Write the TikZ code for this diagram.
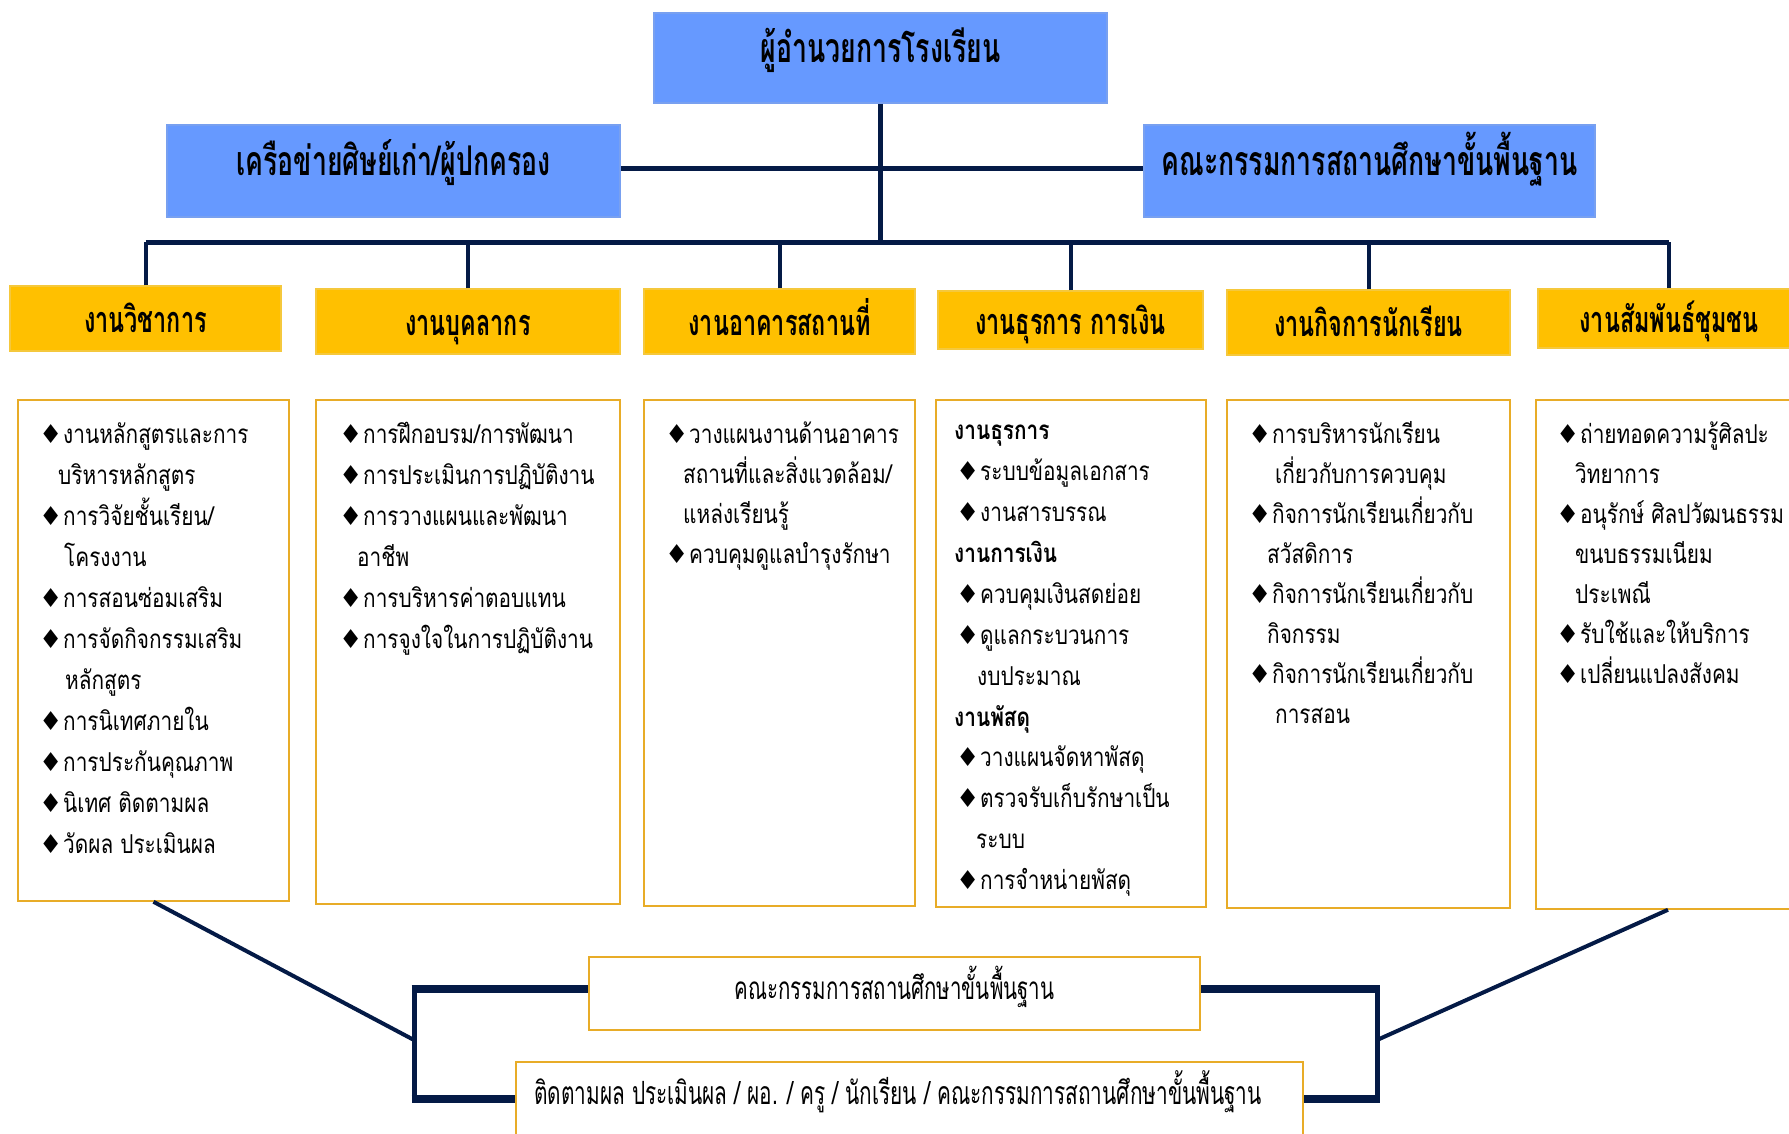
\documentclass[tikz,border=0pt]{standalone}
\usepackage{fontspec}
\newfontfamily\thaiT[Script=Thai,FakeStretch=0.65]{Loma}
\newfontfamily\thaiL[Script=Thai,FakeStretch=0.8]{Loma}
\newfontfamily\dejavu{DejaVu Sans}
\newcommand{\bul}{\makebox[24pt][l]{\dejavu\fontsize{26}{26}\selectfont ♦}}
\newcommand{\fl}{\rule{0pt}{30pt}}
\newcommand{\rb}[2]{\raisebox{#1}[0pt][0pt]{#2}}
\definecolor{blueF}{RGB}{102,153,255}
\definecolor{blueD}{RGB}{120,160,240}
\definecolor{gold}{RGB}{255,192,0}
\definecolor{goldB}{RGB}{245,200,60}
\definecolor{listB}{RGB}{232,172,40}
\definecolor{navy}{RGB}{4,26,70}
\begin{document}
\begin{tikzpicture}[x=1pt,y=-1pt,
  blueBox/.style={draw=blueD, line width=1.5, fill=blueF, inner sep=0,
    font=\thaiT\bfseries\fontsize{41}{41}\selectfont},
  goldBox/.style={draw=goldB, line width=1.5, fill=gold, inner sep=0,
    font=\thaiT\bfseries\fontsize{36}{36}\selectfont},
  listBox/.style={draw=listB, line width=1.5, inner sep=0},
  listText/.style={anchor=north west, inner sep=0, align=left,
    font=\thaiL\fontsize{26}{41}\selectfont},
  conn/.style={draw=navy, line width=5},
  thin/.style={draw=navy, line width=4}
]
\useasboundingbox (0,0) rectangle (1789,1133);
\clip (0,0) rectangle (1789,1133);
\fill[white] (0,0) rectangle (1789,1133);

% top level
\node[blueBox, minimum width=453, minimum height=90] (top) at (880.5,58) {\rb{-4.7pt}{ผู้อำนวยการโรงเรียน}};
\node[blueBox, minimum width=453, minimum height=92] (net) at (393.5,171) {\rb{-4.7pt}{เครือข่ายศิษย์เก่า/ผู้ปกครอง}};
\node[blueBox, minimum width=451, minimum height=92] (board) at (1369.5,171) {\rb{-4.7pt}{คณะกรรมการสถานศึกษาขั้นพื้นฐาน}};

% departments
\node[goldBox, minimum width=271, minimum height=65] (d1) at (145.5,318.5) {\rb{-14pt}{งานวิชาการ}};
\node[goldBox, minimum width=304, minimum height=65] (d2) at (468,321.5) {\rb{-14pt}{งานบุคลากร}};
\node[goldBox, minimum width=271, minimum height=65] (d3) at (779.5,321.5) {\rb{-14pt}{งานอาคารสถานที่}};
\node[goldBox, minimum width=265, minimum height=58] (d4) at (1070.5,320) {\rb{-14pt}{งานธุรการ การเงิน}};
\node[goldBox, minimum width=283, minimum height=65] (d5) at (1368.5,322.5) {\rb{-14pt}{งานกิจการนักเรียน}};
\node[goldBox, minimum width=262, minimum height=59] (d6) at (1669,318.5) {\rb{-14pt}{งานสัมพันธ์ชุมชน}};

% connectors at top
\coordinate (bus) at (0,242);
\coordinate (mid) at (0,168);
\draw[conn] (net.east |- mid) -- (board.west |- mid);
\draw[conn] (top.south) -- (top.south |- bus);
\draw[conn] (d1.north |- bus) -- (d6.north |- bus);
\foreach \d in {d1,d2,d3,d4,d5,d6} \draw[thin] (\d.north) -- (\d.north |- bus);

% list boxes
\node[listBox, minimum width=271, minimum height=501] (l1) at (153.5,650.5) {};
\node[listBox, minimum width=304, minimum height=504] (l2) at (468,652) {};
\node[listBox, minimum width=271, minimum height=506] (l3) at (779.5,653) {};
\node[listBox, minimum width=270, minimum height=507] (l4) at (1071,653.5) {};
\node[listBox, minimum width=283, minimum height=508] (l5) at (1368.5,654) {};
\node[listBox, minimum width=264, minimum height=509] (l6) at (1668,654.5) {};

\node[listText] (t1) at (39,413) {\fl\bul งานหลักสูตรและการ\\
\hspace*{19pt}บริหารหลักสูตร\\
\bul การวิจัยชั้นเรียน/\\
\hspace*{25pt}โครงงาน\\
\bul การสอนซ่อมเสริม\\
\bul การจัดกิจกรรมเสริม\\
\hspace*{26pt}หลักสูตร\\
\bul การนิเทศภายใน\\
\bul การประกันคุณภาพ\\
\bul นิเทศ ติดตามผล\\
\bul วัดผล ประเมินผล};

\node[listText] (t2) at (339,413) {\fl\bul การฝึกอบรม/การพัฒนา\\
\bul การประเมินการปฏิบัติงาน\\
\bul การวางแผนและพัฒนา\\
\hspace*{18pt}อาชีพ\\
\bul การบริหารค่าตอบแทน\\
\bul การจูงใจในการปฏิบัติงาน};

\node[listText, font=\thaiL\fontsize{26}{40}\selectfont] (t3) at (665,413) {\fl\bul วางแผนงานด้านอาคาร\\
\hspace*{18pt}สถานที่และสิ่งแวดล้อม/\\
\hspace*{18pt}แหล่งเรียนรู้\\
\bul ควบคุมดูแลบำรุงรักษา};

\node[listText, font=\thaiL\fontsize{26}{40.9}\selectfont] (t4) at (954,409.5) {\fl\textbf{งานธุรการ}\\
\hspace*{2pt}\bul ระบบข้อมูลเอกสาร\\
\hspace*{2pt}\bul งานสารบรรณ\\
\textbf{งานการเงิน}\\
\hspace*{2pt}\bul ควบคุมเงินสดย่อย\\
\hspace*{2pt}\bul ดูแลกระบวนการ\\
\hspace*{23pt}งบประมาณ\\
\textbf{งานพัสดุ}\\
\hspace*{2pt}\bul วางแผนจัดหาพัสดุ\\
\hspace*{2pt}\bul ตรวจรับเก็บรักษาเป็น\\
\hspace*{22pt}ระบบ\\
\hspace*{2pt}\bul การจำหน่ายพัสดุ};

\node[listText, font=\thaiL\fontsize{26}{40}\selectfont] (t5) at (1248,413) {\fl\bul การบริหารนักเรียน\\
\hspace*{27pt}เกี่ยวกับการควบคุม\\
\bul กิจการนักเรียนเกี่ยวกับ\\
\hspace*{19pt}สวัสดิการ\\
\bul กิจการนักเรียนเกี่ยวกับ\\
\hspace*{19pt}กิจกรรม\\
\bul กิจการนักเรียนเกี่ยวกับ\\
\hspace*{27pt}การสอน};

\node[listText, font=\thaiL\fontsize{26}{40}\selectfont] (t6) at (1556,413) {\fl\bul ถ่ายทอดความรู้ศิลปะ\\
\hspace*{19pt}วิทยาการ\\
\bul อนุรักษ์ ศิลปวัฒนธรรม\\
\hspace*{19pt}ขนบธรรมเนียม\\
\hspace*{19pt}ประเพณี\\
\bul รับใช้และให้บริการ\\
\bul เปลี่ยนแปลงสังคม};

% bottom boxes
\node[listBox, minimum width=611, minimum height=73, font=\thaiT\fontsize{31.5}{31.5}\selectfont] (b1) at (894.5,993.5) {\rb{-6pt}{คณะกรรมการสถานศึกษาขั้นพื้นฐาน}};
\node[listBox, minimum width=787, minimum height=88] (b2) at (909.5,1106) {};
\node[anchor=west, inner sep=0, font=\thaiT\fontsize{32}{32}\selectfont] (b2t) at (534,1092) {ติดตามผล ประเมินผล / ผอ. / ครู / นักเรียน / คณะกรรมการสถานศึกษาขั้นพื้นฐาน};

\coordinate (lb1) at (414,989);
\coordinate (lb2) at (414,1099);
\coordinate (rb1) at (1377,989);
\coordinate (rb2) at (1377,1099);
\coordinate (lm) at (414,1040);
\coordinate (rm) at (1377,1040);
\draw[conn, line width=5] (lb1) -- (lb2);
\draw[conn, line width=5] (rb1) -- (rb2);
\draw[conn, line width=8] ([xshift=-2.5]lb1) -- (b1.west |- lb1);
\draw[conn, line width=8] ([xshift=-2.5]lb2) -- (b2.west |- lb2);
\draw[conn, line width=8] ([xshift=2.5]rb1) -- (b1.east |- rb1);
\draw[conn, line width=8] ([xshift=2.5]rb2) -- (b2.east |- rb2);
\draw[thin] (l1.south) -- (lm);
\draw[thin] (l6.south) -- (rm);
\end{tikzpicture}
\end{document}
